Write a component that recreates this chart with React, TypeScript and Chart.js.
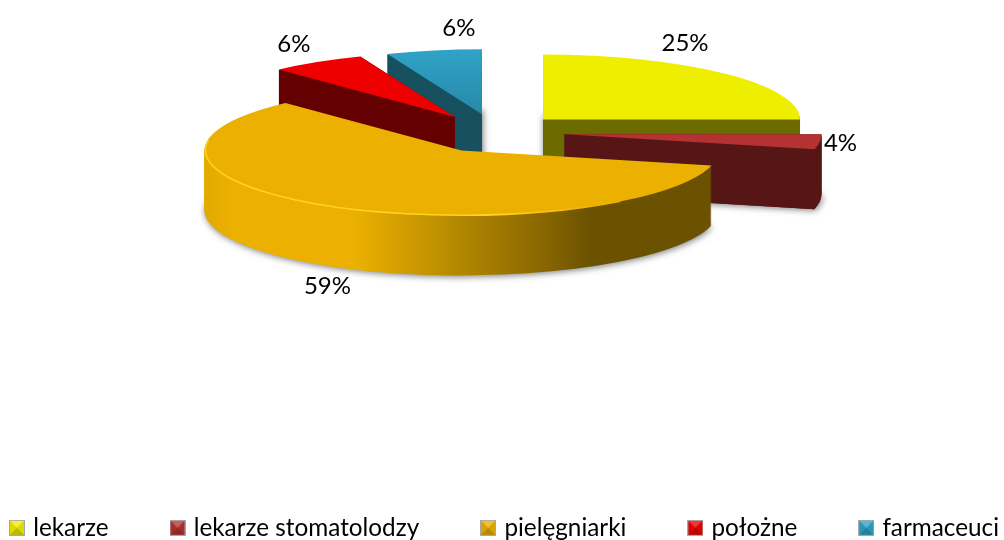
import React, { useEffect, useRef } from "react";
import { Chart, registerables } from "chart.js";

Chart.register(...registerables);

const categories = ["lekarze", "lekarze stomatolodzy", "pielęgniarki", "położne", "farmaceuci"];
const shares = [25, 3.7, 59.3, 6, 6];
const topColors = ["#EEEE00", "#B53232", "#EBB000", "#EE0000", "#2FA3C7"];
const sideColors = ["#6B6B00", "#571616", "#EBB000", "#650000", "#17505F"];
const paintOrder = [0, 4, 3, 1, 2];
const labelShiftX = [142, 276, -134, -161, -23];
const labelShiftY = [-76, 9, 136, -73, -86];
const sliceNudgeX = [0, 0, 9, 5, 6];
const sliceNudgeY = [0, -1, 1, 0, 0];

const PIE_X = 490;
const PIE_Y = 133;
const SQUASH = 0.253;
const DEPTH = 60;
const EXPLODE = 75;
const RADIUS = 257;
const FONT = "Lato";

function legendIcon(color: string) {
  const c = document.createElement("canvas");
  c.width = 16;
  c.height = 16;
  const g = c.getContext("2d")!;
  g.fillStyle = "#A8A8A8";
  g.fillRect(0, 0, 16, 16);
  g.fillStyle = color;
  g.fillRect(1, 1, 14, 14);
  const tri = (pts: number[], fill: string) => {
    g.fillStyle = fill;
    g.beginPath();
    g.moveTo(pts[0], pts[1]);
    g.lineTo(pts[2], pts[3]);
    g.lineTo(pts[4], pts[5]);
    g.closePath();
    g.fill();
  };
  tri([1, 1, 15, 1, 8, 8], "rgba(255,255,255,0.22)");
  tri([1, 15, 15, 15, 8, 8], "rgba(0,0,0,0.22)");
  tri([1, 1, 1, 15, 8, 8], "rgba(0,0,0,0.08)");
  tri([15, 1, 15, 15, 8, 8], "rgba(0,0,0,0.08)");
  return c;
}

const pie3dPlugin = {
  id: "pie3d",
  beforeDatasetsDraw(chart: any) {
    const ctx: CanvasRenderingContext2D = chart.ctx;
    const arcs = chart.getDatasetMeta(0).data;
    for (const i of paintOrder) {
      const arc = arcs[i];
      const saved = arc.options;
      const explode = saved.offset;
      const mid = (arc.startAngle + arc.endAngle) / 2;
      const tx = PIE_X + sliceNudgeX[i] + Math.cos(mid) * explode - arc.x;
      const ty = PIE_Y + sliceNudgeY[i] + Math.sin(mid) * explode * SQUASH;
      const sx = arc.x + tx;
      const sy = ty;
      const place = (dy: number) => {
        ctx.translate(tx, ty + dy);
        ctx.scale(1, SQUASH);
        ctx.translate(0, -arc.y);
      };
      const wallFill = () => {
        if (i !== 2) return sideColors[i];
        const g = ctx.createLinearGradient(203 - tx, 0, 713 - tx, 0);
        g.addColorStop(0, "#E2A900");
        g.addColorStop(0.06, "#EBB000");
        g.addColorStop(0.3, "#EBB000");
        g.addColorStop(0.5, "#B48800");
        g.addColorStop(0.65, "#8E6B00");
        g.addColorStop(0.76, "#6B5200");
        g.addColorStop(1, "#6B5200");
        return g;
      };
      for (let d = DEPTH; d >= 1; d--) {
        ctx.save();
        place(d);
        if (d === DEPTH) {
          ctx.shadowColor = "rgba(0,0,0,0.55)";
          ctx.shadowBlur = 7;
          ctx.shadowOffsetX = 1;
          ctx.shadowOffsetY = 1;
        }
        arc.options = { ...saved, offset: 0, backgroundColor: wallFill() };
        arc.draw(ctx);
        ctx.restore();
      }
      if (i !== 2) {
        // solid cut faces, so the thin wedge tip does not fade out in the stack
        ctx.save();
        ctx.fillStyle = sideColors[i];
        for (const angle of [arc.startAngle, arc.endAngle]) {
          const ex = sx + Math.cos(angle) * arc.outerRadius;
          const ey = sy + Math.sin(angle) * arc.outerRadius * SQUASH;
          ctx.beginPath();
          ctx.moveTo(sx, sy);
          ctx.lineTo(sx, sy + DEPTH);
          ctx.lineTo(ex, ey + DEPTH);
          ctx.lineTo(ex, ey);
          ctx.closePath();
          ctx.fill();
        }
        ctx.restore();
      }
      ctx.save();
      place(0);
      let top: any = topColors[i];
      if (i === 4) {
        top = ctx.createLinearGradient(0, arc.y - RADIUS, 0, arc.y);
        top.addColorStop(0, "#2FA3C7");
        top.addColorStop(1, "#2889A6");
      }
      arc.options = { ...saved, offset: 0, backgroundColor: top };
      arc.draw(ctx);
      ctx.restore();
      arc.options = saved;

      if (i === 2) {
        const g = ctx.createLinearGradient(203, 0, 600, 0);
        g.addColorStop(0, "#FFD21E");
        g.addColorStop(0.75, "#FFD21E");
        g.addColorStop(1, "#EBB000");
        ctx.save();
        ctx.strokeStyle = g;
        ctx.lineWidth = 1.6;
        ctx.beginPath();
        ctx.ellipse(sx, sy, RADIUS - 1, (RADIUS - 1) * SQUASH, 0, 0.9, Math.PI * 1.05);
        ctx.stroke();
        ctx.restore();
      }
      ctx.save();
      ctx.fillStyle = "#000000";
      ctx.font = `24px ${FONT}`;
      ctx.textAlign = "center";
      ctx.textBaseline = "middle";
      ctx.fillText(`${Math.round(shares[i])}%`, sx + labelShiftX[i], sy + labelShiftY[i]);
      ctx.restore();
    }
    return false;
  },
};

export default function App() {
  const ref = useRef<HTMLCanvasElement>(null);
  useEffect(() => {
    const chart = new Chart(ref.current!, {
      type: "pie",
      data: {
        labels: categories,
        datasets: [
          {
            data: shares,
            backgroundColor: topColors,
            borderWidth: 0,
            offset: EXPLODE,
          },
        ],
      },
      options: {
        responsive: false,
        animation: false,
        events: [],
        radius: RADIUS,
        layout: { padding: { left: -52, right: -200, top: 0, bottom: -10 } },
        plugins: {
          tooltip: { enabled: false },
          legend: {
            position: "bottom",
            align: "start",
            labels: {
              color: "#000000",
              font: { family: FONT, size: 24.3 },
              padding: 65,
              usePointStyle: true,
              pointStyleWidth: 8,
              generateLabels: () =>
                categories.map((text, i) => ({
                  text,
                  fillStyle: topColors[i],
                  strokeStyle: topColors[i],
                  lineWidth: 0,
                  pointStyle: legendIcon(topColors[i]),
                  index: i,
                  hidden: false,
                })),
            },
          },
        },
      } as any,
      plugins: [pie3dPlugin],
    });
    return () => chart.destroy();
  }, []);
  return (
    <div style={{ position: "fixed", left: 0, top: 0, width: 1004, height: 540, background: "#fff", overflow: "hidden" }}>
      <canvas ref={ref} width={1004} height={540} style={{ display: "block" }} />
    </div>
  );
}
